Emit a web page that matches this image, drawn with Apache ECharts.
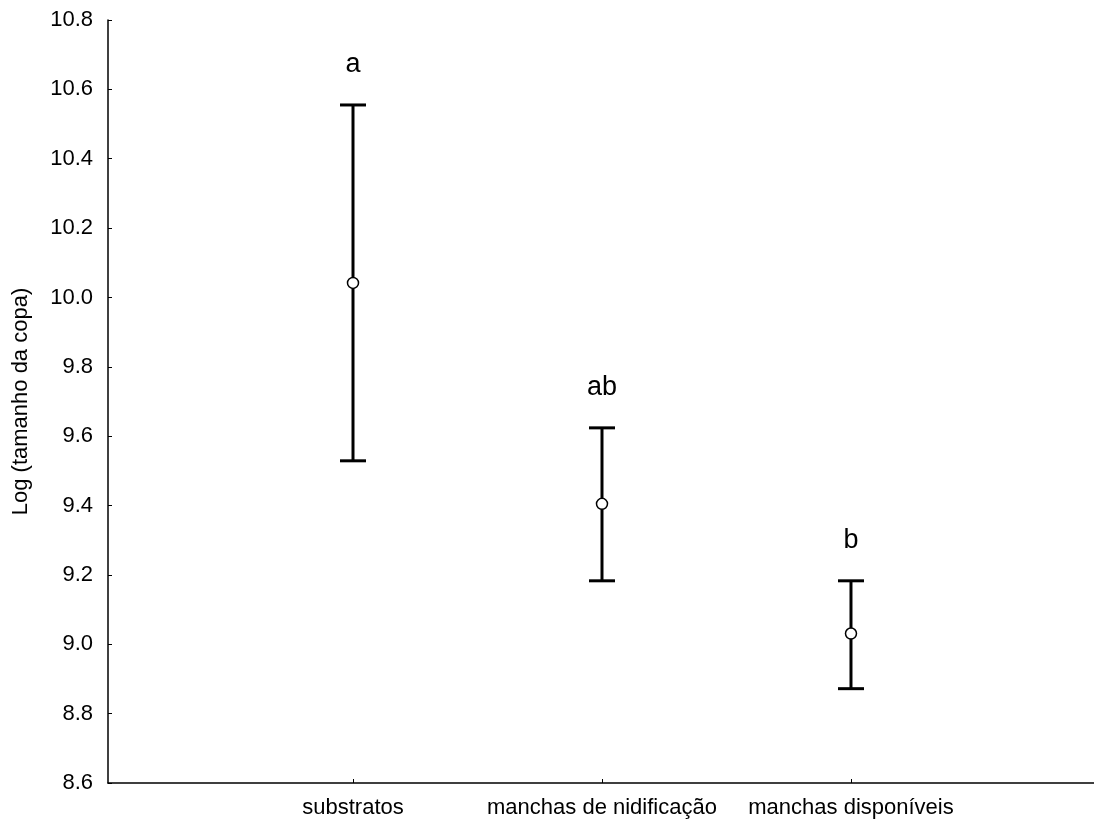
<!DOCTYPE html>
<html>
<head>
<meta charset="utf-8">
<script src="https://cdn.jsdelivr.net/npm/echarts@6/dist/echarts.min.js"></script>
<style>
  html, body { margin: 0; padding: 0; background: #fff; }
  #chart { width: 1094px; height: 823px; }
</style>
</head>
<body>
<div id="chart"></div>
<script>
const categories = ['substratos', 'manchas de nidificação', 'manchas disponíveis']
const means = [10.042, 9.405, 9.031]
const lower = [9.529, 9.183, 8.872]
const upper = [10.555, 9.624, 9.183]
const letters = ['a', 'ab', 'b']

const FONT = 'Liberation Sans, Arial, Helvetica, sans-serif'

const chart = echarts.init(document.getElementById('chart'), null, { renderer: 'canvas' })

const barData = categories.map((c, i) => [i + 1, lower[i], upper[i], letters[i]])
const meanData = categories.map((c, i) => [i + 1, means[i]])

function renderBar(params, api) {
  const x = api.value(0)
  const lo = api.coord([x, api.value(1)])
  const hi = api.coord([x, api.value(2)])
  const cap = 13
  const style = { stroke: '#000', lineWidth: 3 }
  return {
    type: 'group',
    children: [
      { type: 'line', shape: { x1: lo[0], y1: lo[1], x2: hi[0], y2: hi[1] }, style },
      { type: 'line', shape: { x1: hi[0] - cap, y1: hi[1], x2: hi[0] + cap, y2: hi[1] }, style },
      { type: 'line', shape: { x1: lo[0] - cap, y1: lo[1], x2: lo[0] + cap, y2: lo[1] }, style },
      {
        type: 'text',
        x: hi[0],
        y: hi[1] - 40,
        style: {
          text: api.value(3),
          fill: '#000',
          fontSize: 27,
          fontFamily: FONT,
          align: 'center',
          verticalAlign: 'middle'
        }
      }
    ]
  }
}

chart.setOption({
  animation: false,
  grid: { left: 108, right: 0, top: 20, bottom: 40, containLabel: false },
  xAxis: {
    type: 'value',
    min: 0.016,
    max: 3.976,
    axisLine: { show: true, lineStyle: { color: '#000', width: 1.5 } },
    axisTick: { show: true, inside: true, length: 4, customValues: [1, 2, 3], lineStyle: { color: '#000' } },
    axisLabel: {
      customValues: [1, 2, 3],
      formatter: v => categories[Math.round(v) - 1] || '',
      color: '#000',
      fontSize: 22,
      fontFamily: FONT,
      margin: 14
    },
    splitLine: { show: false }
  },
  yAxis: {
    type: 'value',
    min: 8.6,
    max: 10.8,
    interval: 0.2,
    name: 'Log (tamanho da copa)',
    nameLocation: 'middle',
    nameGap: 76,
    nameTextStyle: { color: '#000', fontSize: 22, fontFamily: FONT },
    axisLine: { show: true, lineStyle: { color: '#000', width: 1.5 } },
    axisTick: { show: true, inside: true, length: 4, lineStyle: { color: '#000' } },
    axisLabel: {
      color: '#000',
      fontSize: 22,
      fontFamily: FONT,
      margin: 15,
      formatter: v => v.toFixed(1)
    },
    splitLine: { show: false }
  },
  series: [
    {
      type: 'custom',
      renderItem: renderBar,
      data: barData,
      encode: { x: 0, y: [1, 2] },
      z: 2
    },
    {
      type: 'scatter',
      data: meanData,
      symbol: 'circle',
      symbolSize: 11,
      itemStyle: { color: '#fff', borderColor: '#000', borderWidth: 1.5, opacity: 1 },
      z: 3
    }
  ]
})
</script>
</body>
</html>
